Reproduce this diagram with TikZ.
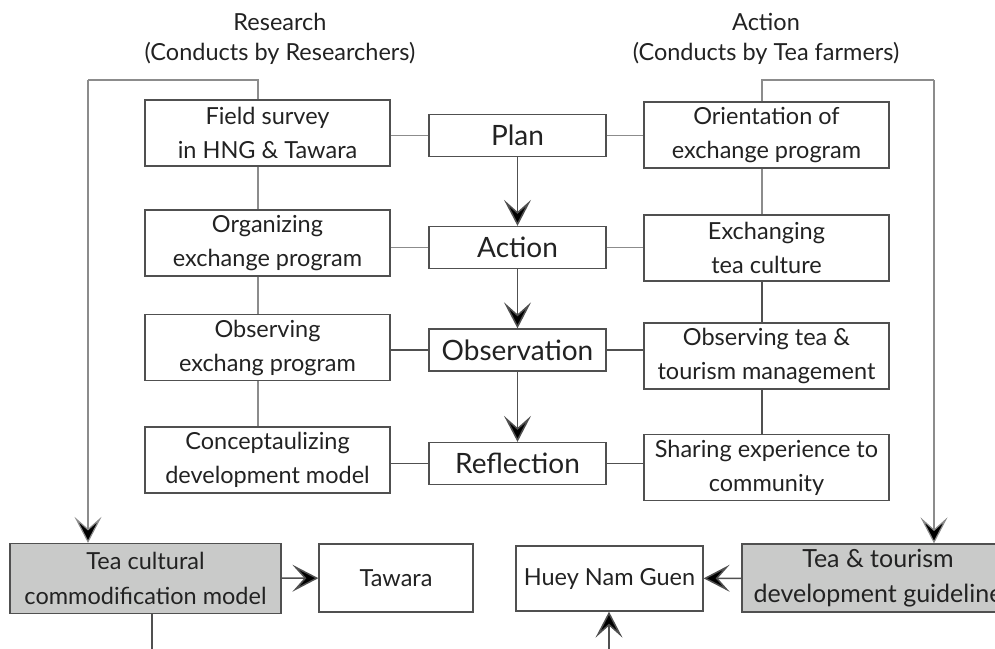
\documentclass[tikz,border=0pt]{standalone}
\usepackage{fontspec}
\setmainfont{Lato}
\usetikzlibrary{arrows.meta}
\definecolor{boxline}{HTML}{505050}
\definecolor{thinline}{HTML}{8C8C8C}
\definecolor{boxfill}{HTML}{C9CAC9}
\definecolor{txt}{HTML}{222222}
\tikzset{
  every node/.style={text=txt},
  sidebox/.style={draw=boxline, line width=1.3pt, minimum width=245pt, minimum height=66pt, align=center, inner sep=0pt, font=\fontsize{23.5}{34}\selectfont},
  midbox/.style={draw=boxline, line width=1.3pt, minimum width=177pt, minimum height=42pt, inner sep=0pt, font=\fontsize{28}{30}\selectfont},
  outbox/.style={draw=boxline, line width=1.3pt, fill=boxfill, minimum height=70pt, align=center, inner sep=0pt, font=\fontsize{23.5}{35}\selectfont},
  resbox/.style={draw=boxline, line width=1.3pt, minimum height=66pt, inner sep=0pt, font=\fontsize{23.5}{26}\selectfont},
  link/.style={draw=thinline, line width=1.2pt},
  darklink/.style={draw=boxline, line width=1.5pt},
  bigarrow/.style={draw=boxline, line width=1.5pt, -{Stealth[length=26pt, width=27pt, inset=12pt, fill=black]}},
  head/.style={align=center, font=\fontsize{23.5}{30}\selectfont}
}
\begin{document}
\begin{tikzpicture}[x=1pt, y=-1pt]
\useasboundingbox (0,0) rectangle (995,648);
\clip (0,0) rectangle (995,648);
% headers
\node[head] (hres) at (280,39) {Research\\(Conducts by Researchers)};
\node[head] (hact) at (766,39) {Action\\(Conducts by Tea farmers)};
% left column
\node[sidebox] (fs) at (267.5,133) {Field survey\\in HNG \& Tawara};
\node[sidebox] (org) at (267.5,243) {Organizing\\exchange program};
\node[sidebox] (obs) at (267.5,347.5) {Observing\\exchang program};
\node[sidebox] (con) at (267.5,460) {Conceptaulizing\\development model};
% middle column
\node[midbox] (plan) at (517.5,135.5) {Plan};
\node[midbox] (act) at (517.5,247.5) {Action};
\node[midbox] (obsv) at (517.5,350) {Observation};
\node[midbox] (refl) at (517.5,463.5) {Reflection};
% right column
\node[sidebox] (ori) at (766.5,135) {Orientation of\\exchange program};
\node[sidebox] (exc) at (766.5,248) {Exchanging\\tea culture};
\node[sidebox] (obt) at (766.5,356) {Observing tea \&\\tourism management};
\node[sidebox] (sha) at (766.5,467.5) {Sharing experience to\\community};
% outputs
\node[outbox, minimum width=271pt] (tcm) at (145.5,578.5) {Tea cultural\\commodification model};
\node[resbox, minimum width=154pt, minimum height=68pt] (taw) at (396,578) {Tawara};
\node[resbox, minimum width=187pt, minimum height=65pt] (hng) at (609.5,578.5) {Huey Nam Guen};
\node[outbox, minimum width=272pt, minimum height=68pt, font=\fontsize{25}{35}\selectfont] (ttg) at (878,578) {Tea \& tourism\\development guideline};
% free ends
\coordinate (ltop) at (88,80);
\coordinate (rtop) at (934,80);
\coordinate (bl) at (152,660);
\coordinate (br) at (609,660);
% horizontal links
\draw[link] (plan.west) -- (plan.west -| fs.east);
\draw[link] (plan.east) -- (plan.east -| ori.west);
\draw[link] (act.west) -- (act.west -| org.east);
\draw[link] (act.east) -- (act.east -| exc.west);
\draw[darklink] (obsv.west) -- (obsv.west -| obs.east);
\draw[darklink] (obsv.east) -- (obsv.east -| obt.west);
\draw[darklink] (refl.west) -- (refl.west -| con.east);
\draw[darklink] (refl.east) -- (refl.east -| sha.west);
% vertical links
\draw[link] ([xshift=-9.5pt]fs.south) -- ([xshift=-9.5pt]org.north);
\draw[link] ([xshift=-9.5pt]org.south) -- ([xshift=-9.5pt]obs.north);
\draw[link] ([xshift=-9.5pt]obs.south) -- ([xshift=-9.5pt]con.north);
\draw[link] ([xshift=-4.5pt]ori.south) -- ([xshift=-4.5pt]exc.north);
\draw[darklink] ([xshift=-4.5pt]exc.south) -- ([xshift=-4.5pt]obt.north);
\draw[darklink] ([xshift=-4.5pt]obt.south) -- ([xshift=-4.5pt]sha.north);
% cycle arrows
\draw[bigarrow] (plan) -- (act);
\draw[bigarrow] (act) -- (obsv);
\draw[bigarrow] (obsv) -- (refl);
% loops
\draw[link] ([xshift=-9.5pt]fs.north) |- (ltop);
\draw[bigarrow, draw=thinline, line width=1.2pt] (ltop) -- (ltop |- tcm.north);
\draw[link] ([xshift=-4.5pt]ori.north) |- (rtop);
\draw[bigarrow, draw=thinline, line width=1.2pt] (rtop) -- (rtop |- ttg.north);
% outputs
\draw[bigarrow] (tcm) -- (taw);
\draw[bigarrow] (ttg) -- (hng);
\draw[darklink] (tcm.south -| bl) -- (bl);
\draw[bigarrow] (br) -- (hng.south -| br);
\end{tikzpicture}
\end{document}
